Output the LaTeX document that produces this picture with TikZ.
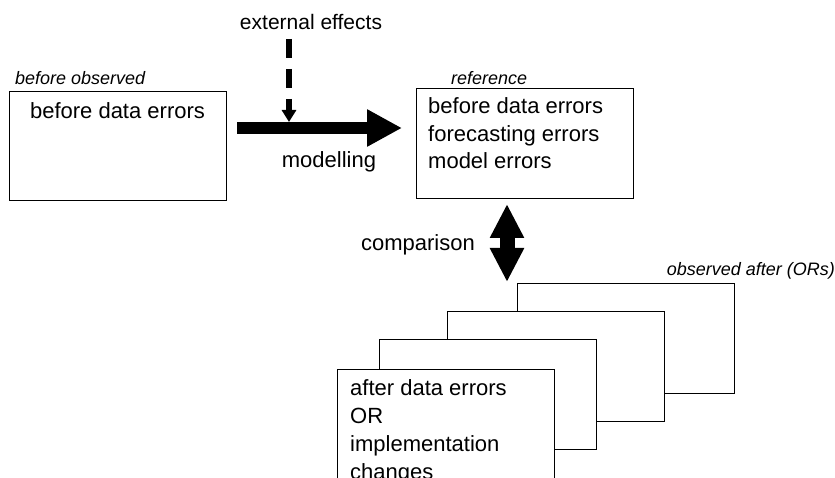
\documentclass[tikz,border=0pt]{standalone}
\usepackage{fontspec}
\setmainfont{Liberation Sans}
\usetikzlibrary{arrows.meta}
\tikzset{
  box/.style={draw=black, line width=1.1pt, fill=white, anchor=north west, inner sep=0pt,
    minimum width=217pt, minimum height=110pt},
  txt/.style={inner sep=0pt, font=\fontsize{22pt}{27pt}\selectfont},
  itxt/.style={inner sep=0pt, font=\fontsize{18pt}{22pt}\selectfont\itshape},
  etxt/.style={inner sep=0pt, font=\fontsize{21pt}{26pt}\selectfont},
  bigarrow/.style={line width=12pt, -{Triangle[length=35pt,width=35pt]}},
  dasharrow/.style={line width=6pt, dash pattern=on 19pt off 11pt, -{Triangle[length=12pt,width=14pt]}},
  dblarrow/.style={line width=15pt, {Triangle[length=34pt,width=32pt]}-{Triangle[length=34pt,width=32pt]}}
}
\begin{document}
\begin{tikzpicture}[x=1pt,y=-1pt]
\path[use as bounding box] (0,0) rectangle (835,478);
\clip (0,0) rectangle (835,478);

% left box
\node[box, minimum height=109pt] (before) at (9,91) {};
\node[itxt, anchor=base west] (beforelbl) at (15,85) {before observed};
\node[txt, anchor=base] (beforetxt) at (117.5,119) {before data errors};

% reference box
\node[box] (ref) at (416,88) {};
\node[itxt, anchor=base west] (reflbl) at (451,85) {reference};
\node[txt, anchor=base west] (ref1) at (428,114) {before data errors};
\node[txt, anchor=base west] (ref2) at (428,142) {forecasting errors};
\node[txt, anchor=base west] (ref3) at (428,169) {model errors};

% modelling arrow
\coordinate (mstart) at (237,128);
\coordinate (mend) at (402,128);
\draw[bigarrow] (mstart) -- (mend);
\node[txt, anchor=base] (modlbl) at (329,168) {modelling};

% external effects
\node[etxt, anchor=base] (ext) at (311,30) {external effects};
\coordinate (estart) at (289,39);
\coordinate (eend) at (289,122);
\draw[dasharrow] (estart) -- (eend);

% comparison arrow
\coordinate (ctop) at (507,204);
\coordinate (cbot) at (507,282);
\draw[dblarrow] (ctop) -- (cbot);
\node[txt, anchor=base east] (cmplbl) at (475,251) {comparison};

% stacked boxes
\node[box] (s4) at (517,283) {};
\node[box] (s3) at (447,311) {};
\node[box] (s2) at (379,339) {};
\node[box] (s1) at (337,369) {};
\node[itxt, anchor=base east] (obslbl) at (835,276) {observed after (ORs)};
\node[txt, anchor=base west] (a1) at (350,395) {after data errors};
\node[txt, anchor=base west] (a2) at (350,423) {OR};
\node[txt, anchor=base west] (a3) at (350,451) {implementation};
\node[txt, anchor=base west] (a4) at (350,479) {changes};
\end{tikzpicture}
\end{document}
